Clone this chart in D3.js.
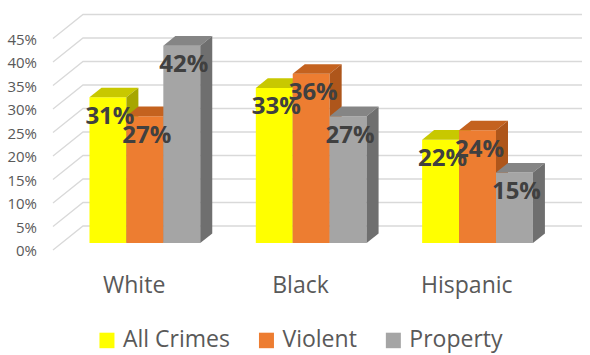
<!DOCTYPE html>
<html>
<head>
<meta charset="utf-8">
<script src="https://cdn.jsdelivr.net/npm/d3@7"></script>
<style>
  html, body { margin: 0; padding: 0; background: #fff; }
  svg { display: block; }
  text { font-family: "Open Sans", "Noto Sans", sans-serif; }
</style>
</head>
<body>
<svg id="chart" width="590" height="355"></svg>
<script>
// ---- data ----
const categories = ["White", "Black", "Hispanic"];
const seriesNames = ["All Crimes", "Violent", "Property"];
const allCrimes = [31, 33, 22];
const violent = [27, 36, 24];
const property = [42, 27, 15];
const yTicks = [0, 5, 10, 15, 20, 25, 30, 35, 40, 45];

const seriesValues = [allCrimes, violent, property];
const colors = {
  "All Crimes": { front: "#FFFF00", top: "#C8C800", side: "#A6A600" },
  "Violent":    { front: "#ED7D31", top: "#C4621F", side: "#AE561B" },
  "Property":   { front: "#A5A5A5", top: "#858585", side: "#6F6F6F" }
};

const svg = d3.select("#chart");

// ---- scales (front floor plane) ----
const y = d3.scaleLinear().domain([0, 45]).range([250, 38.5]);
const x = d3.scaleBand().domain(categories).range([53, 552])
  .paddingInner(0.334).paddingOuter(0.167);
const xs = d3.scaleBand().domain(seriesNames).range([0, x.bandwidth()]);

// depth of the plot box
const DX = 30, DY = -24;
const fFront = 0.29, fBack = 0.69;
const P = (xf, v, f) => [xf + f * DX, y(v) + f * DY];
const poly = pts => pts.map(p => p.join(",")).join(" ");

// ---- gridlines: side wall + back wall ----
const grid = svg.append("g");
grid.selectAll("polyline").data(yTicks).join("polyline")
  .attr("points", t => poly([P(x.range()[0], t, 0), P(x.range()[0], t, 1), P(x.range()[1], t, 1)]))
  .attr("fill", "none")
  .attr("stroke", "#D9D9D9")
  .attr("stroke-width", 1.3);

// ---- y tick labels ----
svg.append("g").selectAll("text").data(yTicks).join("text")
  .attr("x", 37)
  .attr("y", t => y(t))
  .attr("text-anchor", "end")
  .attr("dominant-baseline", "central")
  .attr("font-size", 15)
  .attr("fill", "#595959")
  .text(t => t + "%");

// ---- bars ----
const bars = [];
categories.forEach((c, ci) => {
  seriesNames.forEach((s, si) => {
    bars.push({ c, s, v: seriesValues[si][ci] });
  });
});

const barG = svg.append("g");
bars.forEach(d => {
  const x0 = x(d.c) + xs(d.s), x1 = x0 + xs.bandwidth();
  const col = colors[d.s];
  const g = barG.append("g");
  g.append("polygon")
    .attr("points", poly([P(x0, 0, fFront), P(x1, 0, fFront), P(x1, d.v, fFront), P(x0, d.v, fFront)]))
    .attr("fill", col.front);
  g.append("polygon")
    .attr("points", poly([P(x0, d.v, fFront), P(x1, d.v, fFront), P(x1, d.v, fBack), P(x0, d.v, fBack)]))
    .attr("fill", col.top);
  g.append("polygon")
    .attr("points", poly([P(x1, 0, fFront), P(x1, 0, fBack), P(x1, d.v, fBack), P(x1, d.v, fFront)]))
    .attr("fill", col.side);
});

// ---- data labels ----
svg.append("g").selectAll("text").data(bars).join("text")
  .attr("x", d => P(x(d.c) + xs(d.s) + xs.bandwidth() / 2, d.v, fFront)[0] + 2)
  .attr("y", d => P(0, d.v, fFront)[1] + 17)
  .attr("text-anchor", "middle")
  .attr("dominant-baseline", "central")
  .attr("font-size", 24)
  .attr("font-weight", "bold")
  .attr("fill", "#404040")
  .text(d => d.v + "%");

// ---- category labels ----
svg.append("g").selectAll("text").data(categories).join("text")
  .attr("x", c => x(c) + x.bandwidth() / 2 - 2)
  .attr("y", 293)
  .attr("text-anchor", "middle")
  .attr("font-size", 23)
  .attr("fill", "#595959")
  .text(c => c);

// ---- legend ----
const legend = svg.append("g");
let cx = 0;
const items = [];
seriesNames.forEach(s => {
  const g = legend.append("g");
  g.append("rect").attr("x", 0).attr("y", 332.7).attr("width", 15).attr("height", 15.5)
    .attr("fill", colors[s].front);
  const t = g.append("text").attr("x", 23.5).attr("y", 347.3)
    .attr("font-size", 23).attr("fill", "#595959").text(s);
  const w = 23.5 + t.node().getComputedTextLength();
  items.push({ g, w });
});
const gap = 29;
const total = d3.sum(items, d => d.w) + gap * (items.length - 1);
cx = 301 - total / 2;
items.forEach(it => {
  it.g.attr("transform", `translate(${cx},0)`);
  cx += it.w + gap;
});
</script>
</body>
</html>
